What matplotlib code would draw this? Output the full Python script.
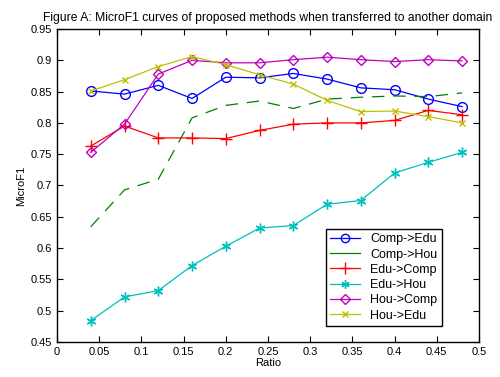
import matplotlib
matplotlib.use("Agg")
import matplotlib.pyplot as plt
from matplotlib.lines import Line2D

ratio = [0.04, 0.08, 0.12, 0.16, 0.20, 0.24, 0.28, 0.32, 0.36, 0.40, 0.44, 0.48]
comp_edu = [0.851, 0.846, 0.860, 0.839, 0.873, 0.872, 0.879, 0.870, 0.856, 0.853, 0.838, 0.826]
comp_hou = [0.634, 0.693, 0.710, 0.808, 0.828, 0.835, 0.823, 0.838, 0.841, 0.843, 0.842, 0.848]
edu_comp = [0.763, 0.795, 0.776, 0.776, 0.775, 0.788, 0.798, 0.800, 0.800, 0.804, 0.820, 0.813]
edu_hou = [0.484, 0.522, 0.532, 0.572, 0.603, 0.632, 0.636, 0.670, 0.676, 0.720, 0.737, 0.753]
hou_comp = [0.753, 0.798, 0.878, 0.900, 0.896, 0.896, 0.901, 0.905, 0.901, 0.898, 0.901, 0.899]
hou_edu = [0.851, 0.869, 0.890, 0.906, 0.893, 0.877, 0.862, 0.836, 0.818, 0.819, 0.810, 0.800]
labels = ['Comp->Edu', 'Comp->Hou', 'Edu->Comp', 'Edu->Hou', 'Hou->Comp', 'Hou->Edu']

plt.rcParams['font.family'] = ['Liberation Sans', 'DejaVu Sans']
fig = plt.figure(figsize=(5, 3.77), dpi=100)
ax = fig.add_axes([0.114, 0.093, 0.844, 0.830])

c_blue, c_green, c_red, c_cyan, c_mag, c_yel = '#0000ff', '#008000', '#ff0000', '#00bfbf', '#bf00bf', '#bfbf00'
ax.plot(ratio, comp_edu, color=c_blue, marker='o', markersize=7, markerfacecolor='none', lw=0.9)
ax.plot(ratio, comp_hou, color=c_green, lw=0.9, dashes=(10, 7))
ax.plot(ratio, edu_comp, color=c_red, marker='+', markersize=8, lw=0.9)
ax.plot(ratio, edu_hou, color=c_cyan, marker=(6, 2, 0), markersize=7, lw=0.9)
ax.plot(ratio, hou_comp, color=c_mag, marker='D', markersize=5.5, markerfacecolor='none', lw=0.9)
ax.plot(ratio, hou_edu, color=c_yel, marker='x', markersize=4, lw=0.9)

handles = [
    Line2D([], [], color=c_blue, marker='o', markersize=6, markerfacecolor='none', lw=0.9),
    Line2D([], [], color=c_green, lw=0.9),
    Line2D([], [], color=c_red, marker='+', markersize=8, lw=0.9),
    Line2D([], [], color=c_cyan, marker=(6, 2, 0), markersize=6, lw=0.9),
    Line2D([], [], color=c_mag, marker='D', markersize=5, markerfacecolor='none', lw=0.9),
    Line2D([], [], color=c_yel, marker='x', markersize=4, lw=0.9),
]

ax.set_xlim(0, 0.5)
ax.set_ylim(0.45, 0.95)
ax.set_xticks([0, 0.05, 0.1, 0.15, 0.2, 0.25, 0.3, 0.35, 0.4, 0.45, 0.5])
ax.set_xticklabels(['0', '0.05', '0.1', '0.15', '0.2', '0.25', '0.3', '0.35', '0.4', '0.45', '0.5'])
ax.set_yticks([0.45, 0.5, 0.55, 0.6, 0.65, 0.7, 0.75, 0.8, 0.85, 0.9, 0.95])
ax.set_yticklabels(['0.45', '0.5', '0.55', '0.6', '0.65', '0.7', '0.75', '0.8', '0.85', '0.9', '0.95'])
ax.tick_params(direction='in', top=True, right=True, labelsize=8, length=4, width=0.8)
for s in ax.spines.values():
    s.set_linewidth(1.0)
ax.set_xlabel('Ratio', fontsize=8, labelpad=1)
ax.set_ylabel('MicroF1', fontsize=8, labelpad=3)
ax.set_title('Figure A: MicroF1 curves of proposed methods when transferred to another domain', fontsize=8.7, pad=6)

leg = ax.legend(handles, labels, loc='lower left', bbox_to_anchor=(0.637, 0.051), fontsize=9, fancybox=False,
                edgecolor='black', framealpha=1, handlelength=2.4, borderpad=0.35, labelspacing=0.26,
                handletextpad=0.8, borderaxespad=0)
leg.get_frame().set_linewidth(1.0)

fig.savefig('out.png', dpi=100)
